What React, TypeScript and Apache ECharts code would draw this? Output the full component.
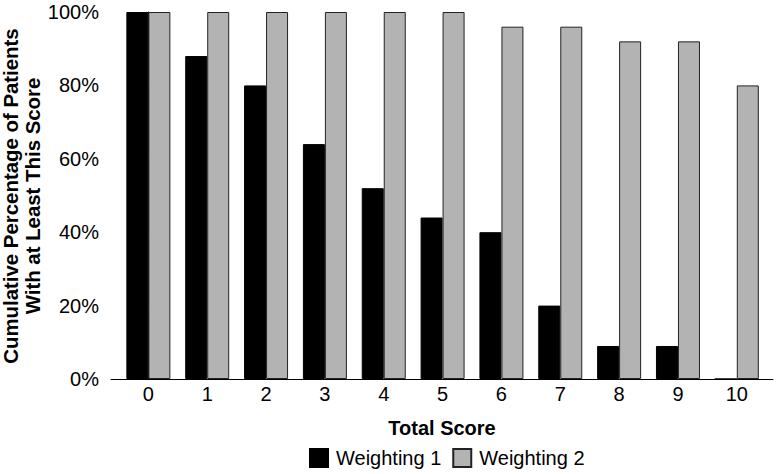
import React, { useEffect, useRef } from "react";
import * as echarts from "echarts";

const categories = [0, 1, 2, 3, 4, 5, 6, 7, 8, 9, 10];
const weighting1 = [100, 88, 80, 64, 52, 44, 40, 20, 9, 9, 0];
const weighting2 = [100, 100, 100, 100, 100, 100, 96, 96, 92, 92, 80];
const seriesNames = ["Weighting 1", "Weighting 2"];
const yAxisTitle = "Cumulative Percentage of Patients\nWith at Least This Score";

const FONT = "'Liberation Sans', Arial, Helvetica, sans-serif";

export default function App() {
  const ref = useRef<HTMLDivElement>(null);
  useEffect(() => {
    document.body.style.margin = "0";
    if (!ref.current) return;
    const chart = echarts.init(ref.current, undefined, { renderer: "svg" });
    chart.setOption({
      animation: false,
      textStyle: { fontFamily: FONT },
      grid: { left: 111, right: 3, top: 12, bottom: 95, containLabel: false, outerBoundsMode: "none" },
      graphic: [
        {
          type: "text",
          x: 22,
          y: 196,
          rotation: Math.PI / 2,
          style: {
            text: yAxisTitle,
            fontFamily: FONT,
            fontSize: 20.4,
            fontWeight: "bold",
            fill: "#000",
            lineHeight: 22,
            align: "center",
            verticalAlign: "middle",
          },
        },
      ],
      legend: {
        bottom: 1,
        left: 304,
        itemWidth: 18,
        itemHeight: 18,
        itemGap: 11,
        icon: "rect",
        textStyle: { fontFamily: FONT, fontSize: 20, color: "#000", padding: [0, 0, 0, 3] },
        data: seriesNames,
      },
      xAxis: {
        type: "value",
        min: -0.635,
        max: 10.615,
        name: "Total Score",
        nameLocation: "middle",
        nameGap: 39,
        nameTextStyle: { fontFamily: FONT, fontSize: 20, fontWeight: "bold", color: "#000" },
        axisLine: { show: true, lineStyle: { color: "#000", width: 1 } },
        axisTick: { show: false },
        splitLine: { show: false },
        axisLabel: {
          fontFamily: FONT,
          fontSize: 20,
          color: "#000",
          margin: 5,
          customValues: categories,
        },
      },
      yAxis: {
        type: "value",
        min: 0,
        max: 100,
        interval: 20,
        axisLine: { show: true, lineStyle: { color: "#000", width: 1 } },
        axisTick: { show: true, length: 5, lineStyle: { color: "#000" } },
        splitLine: { show: false },
        axisLabel: { fontFamily: FONT, fontSize: 20, color: "#000", margin: 12, formatter: "{value}%" },
      },
      series: [
        {
          name: seriesNames[0],
          type: "bar",
          data: categories.map((c, i) => [c, weighting1[i]]),
          barWidth: 22,
          barGap: "0%",
          itemStyle: { color: "#000", borderColor: "#000", borderWidth: 1 },
        },
        {
          name: seriesNames[1],
          type: "bar",
          data: categories.map((c, i) => [c, weighting2[i]]),
          barWidth: 22,
          barGap: "0%",
          itemStyle: { color: "#b3b3b3", borderColor: "#222", borderWidth: 1 },
        },
      ],
    });
    return () => chart.dispose();
  }, []);
  return <div ref={ref} style={{ width: 776, height: 474 }} />;
}
